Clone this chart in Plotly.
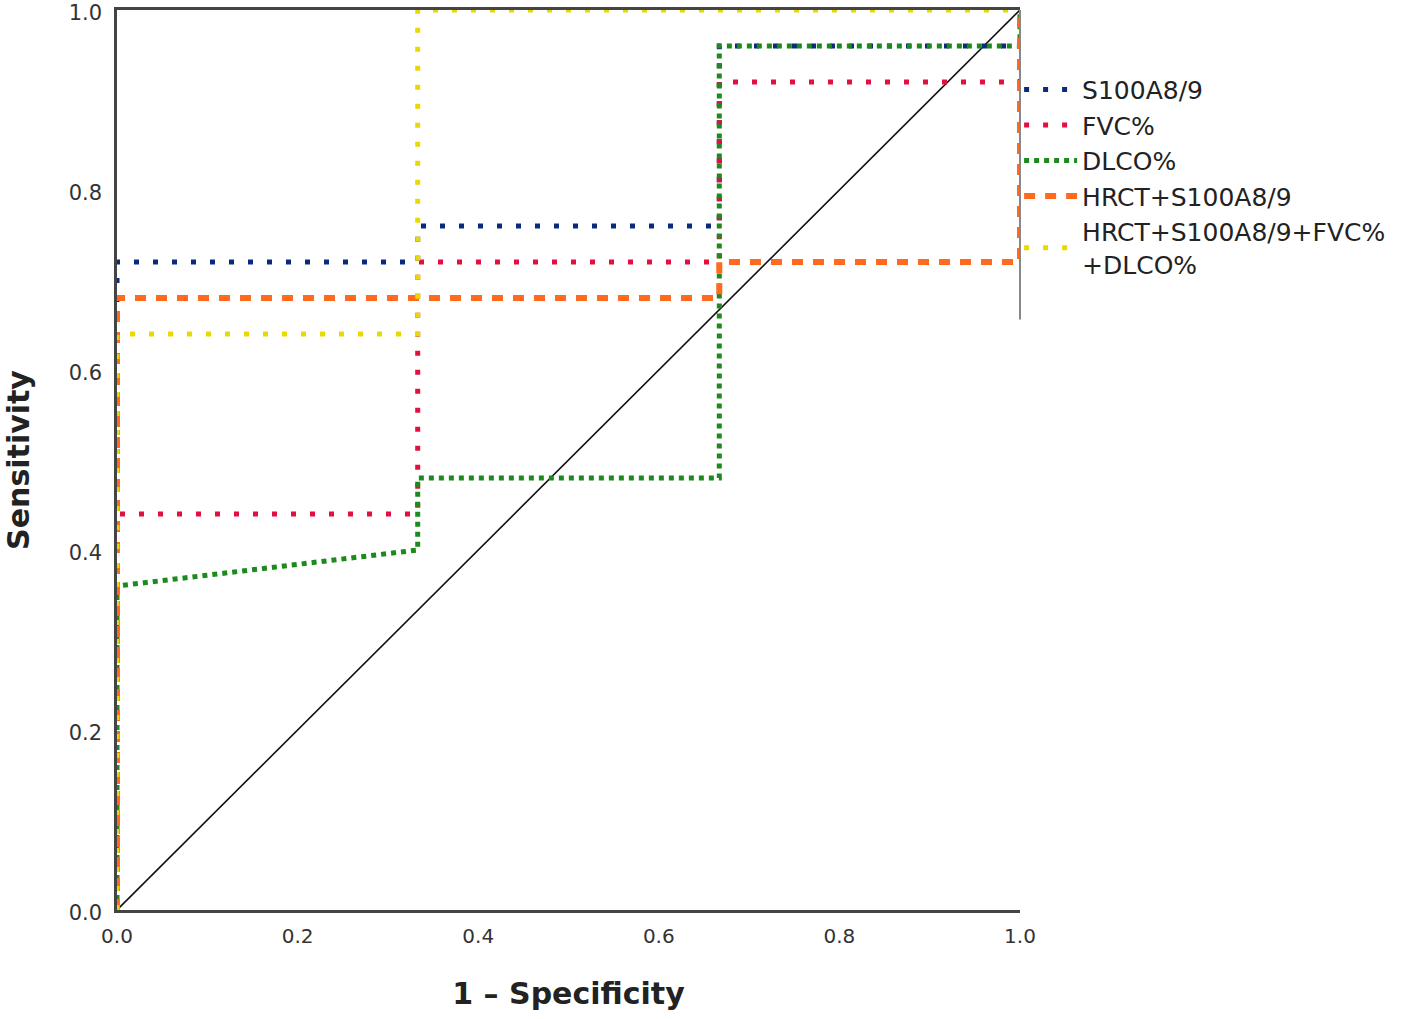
import plotly.graph_objects as go

# ROC curve data (1 - specificity, sensitivity)
s100_fpr = [0.0, 0.0, 0.333, 0.333, 0.667, 0.667, 1.0, 1.0]
s100_tpr = [0.0, 0.72, 0.72, 0.76, 0.76, 0.96, 0.96, 1.0]

fvc_fpr = [0.0, 0.0, 0.333, 0.333, 0.667, 0.667, 1.0, 1.0]
fvc_tpr = [0.0, 0.44, 0.44, 0.72, 0.72, 0.92, 0.92, 1.0]

dlco_fpr = [0.0, 0.0, 0.333, 0.333, 0.667, 0.667, 1.0, 1.0]
dlco_tpr = [0.0, 0.36, 0.40, 0.48, 0.48, 0.96, 0.96, 1.0]

hrct_fpr = [0.0, 0.0, 0.667, 0.667, 1.0, 1.0]
hrct_tpr = [0.0, 0.68, 0.68, 0.72, 0.72, 1.0]

combo_fpr = [0.0, 0.0, 0.333, 0.333, 1.0]
combo_tpr = [0.0, 0.64, 0.64, 1.0, 1.0]

ref_fpr = [0.0, 1.0]
ref_tpr = [0.0, 1.0]

series_names = ["S100A8/9", "FVC%", "DLCO%", "HRCT+S100A8/9", "HRCT+S100A8/9+FVC%<br>+DLCO%"]
tick_vals = [0.0, 0.2, 0.4, 0.6, 0.8, 1.0]

fig = go.Figure()
fig.add_trace(go.Scatter(x=ref_fpr, y=ref_tpr, mode="lines", showlegend=False,
                         line=dict(color="#111111", width=1.6), hoverinfo="skip"))

styles = [
    (s100_fpr, s100_tpr, "#0b2a7e", "5px,14px", 5),
    (fvc_fpr, fvc_tpr, "#e3103f", "5px,14px", 5),
    (dlco_fpr, dlco_tpr, "#1d8a1d", "5px,5px", 5),
    (hrct_fpr, hrct_tpr, "#ff6a1f", "11px,10px", 6),
    (combo_fpr, combo_tpr, "#e8d900", "5px,14px", 5),
]
for (xs, ys, col, dash, w), name in zip(styles, series_names):
    fig.add_trace(go.Scatter(x=xs, y=ys, mode="lines", name=name,
                             line=dict(color=col, dash=dash, width=w)))

fig.add_shape(type="line", xref="paper", yref="paper", x0=1, x1=1, y0=0.656, y1=1.0,
              line=dict(color="#888888", width=2))

fig.update_layout(
    width=1418, height=1019,
    margin=dict(l=117, r=398, t=10, b=109),
    plot_bgcolor="white", paper_bgcolor="white",
    font=dict(family="DejaVu Sans", color="#222222"),
    legend=dict(x=0.999, xanchor="left", y=0.937, yanchor="top",
                font=dict(size=25, color="#222222"), bgcolor="rgba(0,0,0,0)",
                tracegroupgap=0, itemwidth=53),
    xaxis=dict(range=[0, 1], tickvals=tick_vals, tickformat=".1f", showgrid=False,
               zeroline=False, showline=True, linecolor="#444444", linewidth=2.5,
               mirror=True, ticks="outside", ticklen=6, tickcolor="rgba(0,0,0,0)",
               automargin=False, ticklabeloverflow="allow",
               tickfont=dict(size=20, color="#333333"),
               title=dict(text="<b>1 – Specificity</b>", font=dict(size=30, color="#222222"), standoff=37)),
    yaxis=dict(range=[0, 1], tickvals=tick_vals, tickformat=".1f", showgrid=False,
               zeroline=False, showline=True, linecolor="#444444", linewidth=2.5,
               ticks="outside", ticklen=8, tickcolor="rgba(0,0,0,0)",
               automargin=False, ticklabeloverflow="allow", ticklabelshift=3,
               tickfont=dict(size=21, color="#333333"),
               title=dict(text="<b>Sensitivity</b>", font=dict(size=30, color="#222222"), standoff=31)),
)

fig.write_html("out.html", config={"displayModeBar": False},
               post_script="document.body.style.margin='0';document.body.style.overflow='hidden';")
